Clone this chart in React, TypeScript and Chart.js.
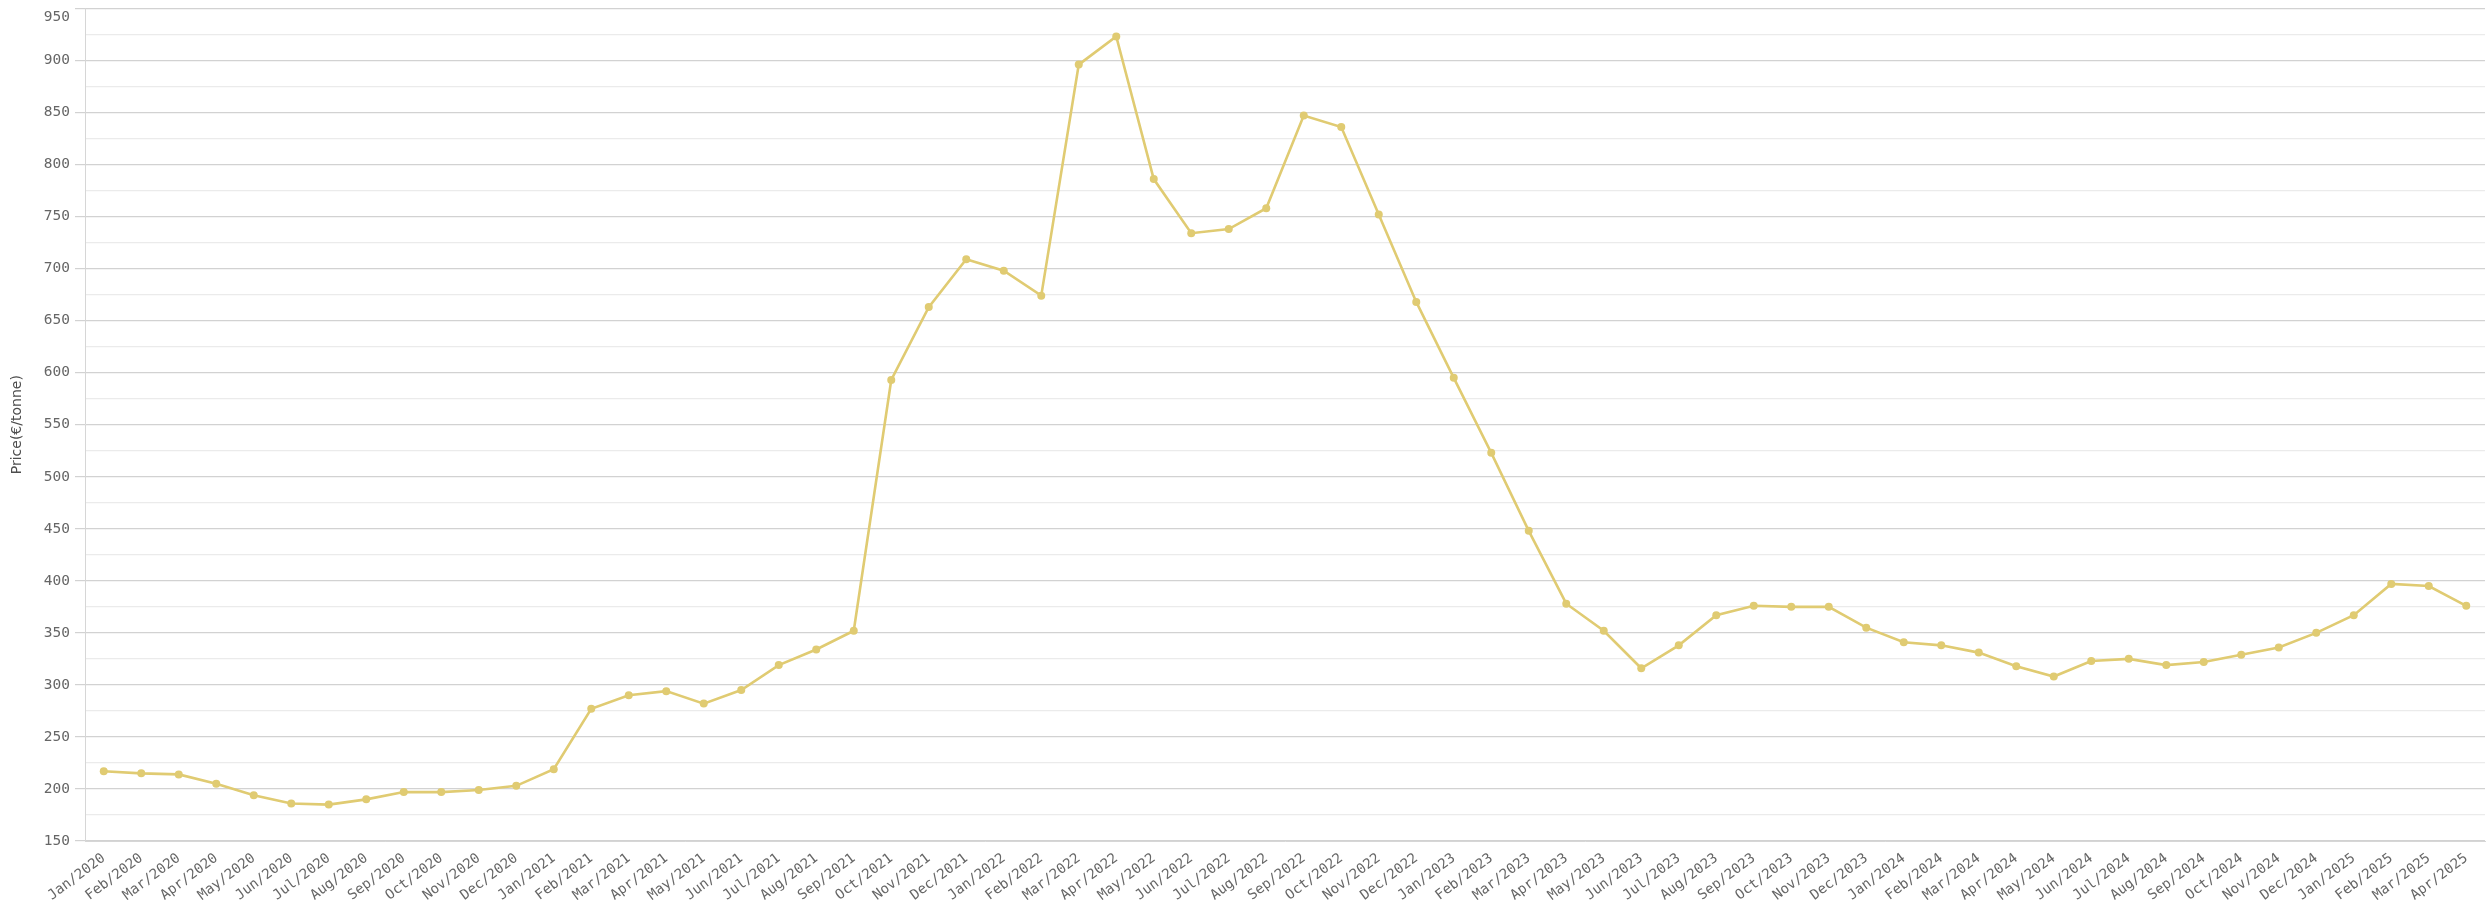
import React, { useEffect, useRef } from "react";
import { Chart, registerables } from "chart.js";

Chart.register(...registerables);

const months = ["Jan", "Feb", "Mar", "Apr", "May", "Jun", "Jul", "Aug", "Sep", "Oct", "Nov", "Dec"];
const years = [2020, 2021, 2022, 2023, 2024, 2025];

const categories: string[] = [];
for (const y of years) {
  for (const m of months) {
    if (y === 2025 && months.indexOf(m) > 3) break;
    categories.push(`${m}/${y}`);
  }
}

const prices2020 = [217, 215, 214, 205, 194, 186, 185, 190, 197, 197, 199, 203];
const prices2021 = [219, 277, 290, 294, 282, 295, 319, 334, 352, 593, 663, 709];
const prices2022 = [698, 674, 896, 923, 786, 734, 738, 758, 847, 836, 752, 668];
const prices2023 = [595, 523, 448, 378, 352, 316, 338, 367, 376, 375, 375, 355];
const prices2024 = [341, 338, 331, 318, 308, 323, 325, 319, 322, 329, 336, 350];
const prices2025 = [367, 397, 395, 376];

const prices = [...prices2020, ...prices2021, ...prices2022, ...prices2023, ...prices2024, ...prices2025];

const yMin = 150;
const yMax = 950;
const yStep = 25;
const yLabelStep = 50;
const yTitle = "Price(€/tonne)";

const SHIFT = 14;

export default function App() {
  const ref = useRef<HTMLCanvasElement | null>(null);

  useEffect(() => {
    if (!ref.current) return;
    const chart = new Chart(ref.current, {
      type: "line",
      data: {
        labels: categories,
        datasets: [
          {
            label: "Price",
            data: prices,
            borderColor: "#e0cb72",
            backgroundColor: "#e0cb72",
            pointBackgroundColor: "#e0cb72",
            pointBorderColor: "#e0cb72",
            borderWidth: 2.6,
            pointRadius: 4,
            pointBorderWidth: 0,
            tension: 0,
            fill: false,
          },
        ],
      },
      options: {
        animation: false,
        responsive: false,
        maintainAspectRatio: false,
        layout: { padding: { left: 0, right: 1, top: 0, bottom: 0 } },
        plugins: {
          legend: { display: false },
          tooltip: { enabled: false },
        },
        scales: {
          x: {
            type: "category",
            offset: true,
            grid: { display: false },
            border: { display: true, color: "#d6d6d6", width: 1 },
            ticks: {
              autoSkip: false,
              maxRotation: 37,
              minRotation: 37,
              padding: 1,
              color: "#666666",
              font: { family: "'DejaVu Sans Mono', monospace", size: 14 },
            },
            afterFit: (s: any) => {
              s.height = 69;
            },
          },
          y: {
            type: "linear",
            min: yMin,
            max: yMax,
            title: {
              display: true,
              text: yTitle,
              color: "#4d4d4d",
              font: { family: "'DejaVu Sans', sans-serif", size: 14 },
              padding: { top: 9, bottom: 0 },
            },
            border: { display: true, color: "#d6d6d6", width: 1 },
            grid: {
              color: (ctx: any) =>
                ctx.tick && ctx.tick.value % yLabelStep === 0 ? "#d2d2d2" : "#ebebeb",
              tickColor: (ctx: any) =>
                ctx.tick && ctx.tick.value % yLabelStep === 0 ? "#d2d2d2" : "rgba(0,0,0,0)",
              tickLength: 10,
              lineWidth: 1.2,
            },
            ticks: {
              stepSize: yStep,
              autoSkip: false,
              padding: 5,
              color: "#666666",
              font: { family: "'DejaVu Sans Mono', monospace", size: 14.5 },
              callback: (v: any) => {
                const n = Number(v);
                if (n === yMax) return ["", String(n)];
                return n % yLabelStep === 0 ? String(n) : "";
              },
            },
            afterFit: (s: any) => {
              s.width = 85;
            },
          },
        },
      },
    });
    return () => chart.destroy();
  }, []);

  return (
    <div style={{ position: "fixed", left: 0, top: -SHIFT, width: 2489, height: 910 + SHIFT, background: "#fff" }}>
      <canvas
        ref={ref}
        width={2489}
        height={910 + SHIFT}
        style={{ display: "block", width: 2489, height: 910 + SHIFT }}
      />
    </div>
  );
}
